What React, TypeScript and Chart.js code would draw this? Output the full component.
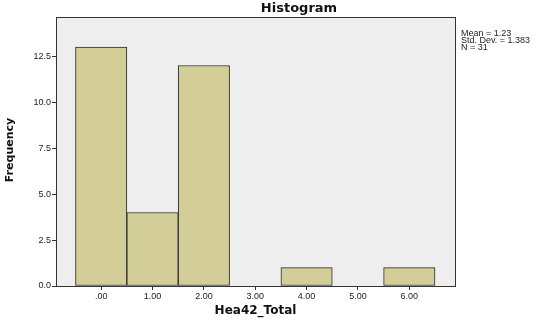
import React, { useEffect, useRef } from "react";
import { Chart, registerables } from "chart.js";

Chart.register(...registerables);

const binCenters = [0, 1, 2, 3, 4, 5, 6];
const frequencies = [13, 4, 12, 0, 1, 0, 1];
const yTicks = [0, 2.5, 5, 7.5, 10, 12.5];
const chartTitle = "Histogram";
const xTitle = "Hea42_Total";
const yTitle = "Frequency";
const statsLines = ["Mean = 1.23", "Std. Dev. = 1.383", "N = 31"];

const xLabel = (v: number) => (v === 0 ? ".00" : v.toFixed(2));

const decor = {
  id: "decor",
  beforeDraw(chart: any) {
    const { ctx, chartArea: a } = chart;
    ctx.save();
    ctx.fillStyle = "#EEEEEE";
    ctx.fillRect(a.left, a.top, a.right - a.left, a.bottom - a.top);
    ctx.restore();
  },
  afterDraw(chart: any) {
    const { ctx, chartArea: a } = chart;
    ctx.save();
    ctx.strokeStyle = "#333333";
    ctx.lineWidth = 1;
    ctx.strokeRect(Math.round(a.left) + 0.5, Math.round(a.top) + 0.5, Math.round(a.right - a.left), Math.round(a.bottom - a.top));
    ctx.fillStyle = "#111111";
    ctx.textAlign = "center";
    ctx.textBaseline = "middle";
    ctx.font = "bold 13px 'DejaVu Sans'";
    ctx.fillText(chartTitle, 299, 9);
    ctx.font = "bold 12px 'DejaVu Sans'";
    ctx.fillText(xTitle, (a.left + a.right) / 2, 311);
    ctx.save();
    ctx.translate(10, 150);
    ctx.rotate(-Math.PI / 2);
    ctx.font = "bold 11px 'DejaVu Sans'";
    ctx.fillText(yTitle, 0, 0);
    ctx.restore();
    ctx.textAlign = "left";
    ctx.font = "9px 'Liberation Sans'";
    ctx.fillStyle = "#222222";
    statsLines.forEach((s, i) => ctx.fillText(s, a.right + 6, 34 + i * 6.8));
    ctx.restore();
  },
};

export default function App() {
  const ref = useRef<HTMLCanvasElement>(null);
  useEffect(() => {
    if (!ref.current) return;
    const chart = new Chart(ref.current, {
      type: "bar",
      data: {
        datasets: [
          {
            data: binCenters.map((x, i) => ({ x, y: frequencies[i] })),
            backgroundColor: "#D3CE97",
            borderColor: "#2A2A2A",
            borderWidth: 1,
            borderSkipped: false,
            barPercentage: 1,
            categoryPercentage: 1,
          },
        ],
      },
      options: {
        animation: false,
        responsive: false,
        layout: { padding: { left: 0, top: 17, right: 95, bottom: 0 } },
        plugins: { legend: { display: false }, tooltip: { enabled: false }, title: { display: false } },
        scales: {
          x: {
            type: "linear",
            offset: false,
            min: -0.88,
            max: 6.89,
            afterBuildTicks: (s: any) => {
              s.ticks = binCenters.map((v) => ({ value: v }));
            },
            afterFit: (s: any) => {
              s.height = 35;
            },
            ticks: {
              callback: (v: any) => xLabel(Number(v)),
              font: { family: "'Liberation Sans'", size: 9 },
              color: "#222222",
              padding: 1,
              maxRotation: 0,
              autoSkip: false,
            },
            grid: { offset: false, drawOnChartArea: false, tickLength: 4, color: "#333333" },
            border: { display: true, color: "#333333" },
          },
          y: {
            min: 0,
            max: 14.64,
            afterBuildTicks: (s: any) => {
              s.ticks = yTicks.map((v) => ({ value: v }));
            },
            afterFit: (s: any) => {
              s.width = 56;
            },
            ticks: {
              callback: (v: any) => Number(v).toFixed(1),
              font: { family: "'Liberation Sans'", size: 9 },
              color: "#222222",
              padding: 1,
            },
            grid: { drawOnChartArea: false, tickLength: 4, color: "#333333" },
            border: { display: true, color: "#333333" },
          },
        },
      },
      plugins: [decor],
    } as any);
    return () => chart.destroy();
  }, []);
  return (
    <div style={{ position: "absolute", left: 0, top: 0, width: 550, height: 321, background: "#fff" }}>
      <canvas ref={ref} width={550} height={321} style={{ display: "block" }} />
    </div>
  );
}
